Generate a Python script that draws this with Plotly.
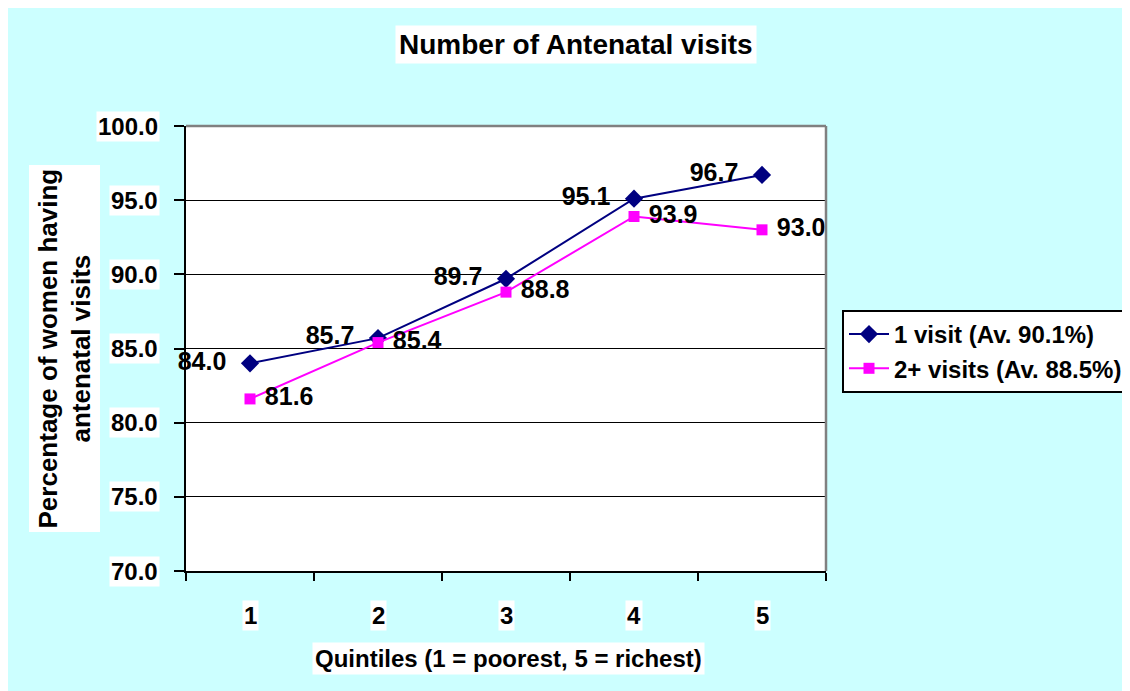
import plotly.graph_objects as go

quintiles = [1, 2, 3, 4, 5]
one_visit = [84.0, 85.7, 89.7, 95.1, 96.7]
two_plus = [81.6, 85.4, 88.8, 93.9, 93.0]
series_names = ["1 visit (Av. 90.1%)", "2+ visits (Av. 88.5%)"]
y_ticks = [70, 75, 80, 85, 90, 95, 100]

FONT = "Liberation Sans, Arial, sans-serif"
OFF = 8  # page body margin
W, H = 1130 - OFF, 691 - OFF
L, R, T, B = 186, 826, 126, 571  # plot area in page pixels

NB = "\u00a0"

fig = go.Figure()
fig.add_trace(go.Scatter(
    x=quintiles, y=one_visit, name=series_names[0],
    mode="lines+markers+text", cliponaxis=False,
    line=dict(color="#000080", width=2),
    marker=dict(symbol="diamond", size=14, color="#000080"),
    text=[f"{v:.1f}" + NB * 2 for v in one_visit], textposition="middle left",
    textfont=dict(family=FONT, size=25, color="black", weight="bold"),
))
fig.add_trace(go.Scatter(
    x=quintiles, y=two_plus, name=series_names[1],
    mode="lines+markers+text", cliponaxis=False,
    line=dict(color="#FF00FF", width=2),
    marker=dict(symbol="square", size=11, color="#FF00FF"),
    text=[NB + f"{v:.1f}" for v in two_plus], textposition="middle right",
    textfont=dict(family=FONT, size=25, color="black", weight="bold"),
))

shapes = [
    dict(type="line", xref="paper", yref="paper", x0=0, x1=1, y0=1, y1=1,
         line=dict(color="#808080", width=2.5), layer="above"),
    dict(type="line", xref="paper", yref="paper", x0=1, x1=1, y0=0, y1=1,
         line=dict(color="#808080", width=2.5), layer="above"),
]

annotations = []
for v in y_ticks:
    annotations.append(dict(
        x=0, xref="paper", y=v, yref="y", text=f"<b>{v:.1f}</b>",
        xanchor="right", yanchor="middle", xshift=-26, showarrow=False,
        bgcolor="white", borderpad=1,
        font=dict(family=FONT, size=24, color="black")))
for q in quintiles:
    annotations.append(dict(
        x=q, xref="x", y=0, yref="paper", text=f"<b>{q}</b>",
        xanchor="center", yanchor="middle", yshift=-44, showarrow=False,
        bgcolor="white", borderpad=1,
        font=dict(family=FONT, size=24, color="black")))
annotations.append(dict(
    x=(576 - L) / (R - L), xref="paper", y=(B - 45) / (B - T), yref="paper",
    text="<b>Number of Antenatal visits</b>", showarrow=False,
    xanchor="center", yanchor="middle", bgcolor="white", borderpad=3,
    font=dict(family=FONT, size=28, color="black")))
annotations.append(dict(
    x=(508 - L) / (R - L), xref="paper", y=(B - 658) / (B - T), yref="paper",
    text="<b>Quintiles (1 = poorest, 5 = richest)</b>", showarrow=False,
    xanchor="center", yanchor="middle", bgcolor="white", borderpad=2,
    font=dict(family=FONT, size=24, color="black")))
annotations.append(dict(
    x=(64 - L) / (R - L), xref="paper", y=0.5, yref="paper",
    text="<b>Percentage of women having<br>antenatal visits</b>", showarrow=False,
    textangle=-90, xanchor="center", yanchor="middle", bgcolor="white", borderpad=3,
    font=dict(family=FONT, size=26, color="black")))

fig.update_layout(
    width=W, height=H,
    margin=dict(l=L - OFF, r=1130 - R, t=T - OFF, b=691 - B, autoexpand=False),
    paper_bgcolor="#CCFFFF", plot_bgcolor="white",
    showlegend=True,
    legend=dict(
        x=(842 - L) / (R - L), y=(B - 310) / (B - T), xanchor="left", yanchor="top",
        bgcolor="white", bordercolor="black", borderwidth=2,
        font=dict(family=FONT, size=24, color="black", weight="bold"),
        tracegroupgap=0, itemwidth=40,
    ),
    xaxis=dict(
        range=[0.5, 5.5], tickvals=[0.5, 1.5, 2.5, 3.5, 4.5, 5.5], showgrid=False,
        showline=True, linecolor="black", linewidth=2,
        ticks="outside", ticklen=8, tickcolor="black", tickwidth=2,
        showticklabels=False, zeroline=False, fixedrange=True,
    ),
    yaxis=dict(
        range=[70, 100], tickvals=y_ticks, showgrid=True, gridcolor="black", gridwidth=1,
        showline=True, linecolor="black", linewidth=2,
        ticks="outside", ticklen=10, tickcolor="black", tickwidth=2,
        showticklabels=False, zeroline=False, fixedrange=True,
    ),
    shapes=shapes, annotations=annotations,
)

fig.write_html("out.html")
